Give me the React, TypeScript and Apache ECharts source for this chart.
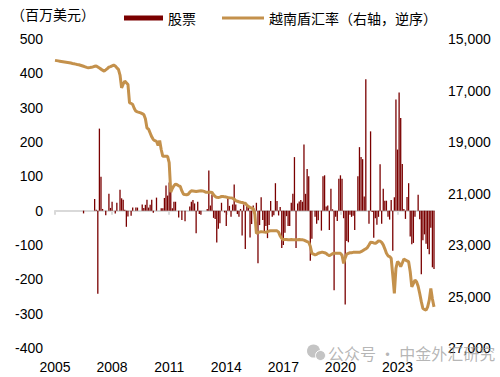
import React, { useEffect, useRef } from "react";
import * as echarts from "echarts";

// Monthly data, Jan 2005 .. Dec 2024
const START_YEAR = 2005;

// Net equity flows (USD mn), one value per month
const equityFlows: number[] = [
  0, 0, 0, 0, 0, 0, 0, 0, 0, 0, 0, 0,
  0, 0, 0, 0, 0, 0, -8, 0, 0, 0, 0, 0,
  0, 34, 3, -242, 239, 99, 5, 0, -13, 0, 49, 8,
  26, 0, -8, 23, 0, 61, 36, 32, 3, -47, -17, 0,
  -15, 9, 0, 9, 9, 0, 0, 18, 8, 17, 32, 9,
  17, 32, -6, 0, 38, 0, 0, 7, 7, 37, 73, 44,
  82, 72, 7, 26, 26, 0, -20, 0, -27, 0, -31, 0,
  0, 12, 26, 31, 21, -66, 26, -10, -12, 0, 0, 0,
  5, 117, 15, 47, -21, -24, -93, -53, -37, 23, 0, -5,
  -45, 39, 14, -18, 18, 76, 18, -10, -18, 5, -72, 18,
  -112, 14, 14, -78, -39, 15, -27, 23, -153, -42, 39, -27,
  -63, -45, -80, -42, 28, -18, -13, 80, 28, -14, 11, -109,
  -100, -64, -16, -45, -45, 23, 49, 156, -109, 21, 27, 31,
  26, 193, 49, 121, 100, -146, -82, 0, -18, -38, -28, 0,
  -58, 100, 103, 12, 15, -56, 64, 4, -232, -18, -30, 93,
  103, 93, -22, -273, -88, -92, -12, -18, -15, -56, 0, 100,
  185, 156, 150, 41, 383, 0, -38, 231, -4, -79, -22, -41,
  -18, 135, -38, 64, 29, 29, -18, -26, 31, -117, 39, 324,
  178, 344, 270, 136, 5, -24, 40, 80, -75, -98, -94, -18,
  0, 46, -25, -185, -86, -69, -96, -112, -127, -50, -165, -170,
];

// VND per USD, one value per month
const vndRate: number[] = [
  15830, 15840, 15850, 15860, 15870, 15880, 15890, 15900, 15910, 15920, 15935, 15950,
  15962, 15975, 15990, 16000, 16020, 16040, 16060, 16080, 16100, 16117, 16110, 16100,
  16080, 16060, 16050, 16090, 16130, 16170, 16210, 16247, 16200, 16150, 16090, 16070,
  16040, 16013, 16050, 16120, 16180, 16400, 16897, 16750, 16636, 16700, 16766, 17481,
  17500, 17545, 17700, 17805, 17830, 17850, 17870, 17900, 17935, 18100, 18455, 18500,
  18650, 18800, 18907, 18950, 18973, 19130, 18946, 19300, 19558, 19558, 19558, 19558,
  19800, 20948, 20800, 20700, 20636, 20660, 20700, 20727, 20900, 21026, 21040, 21050,
  21030, 20950, 20895, 20900, 20910, 20920, 20910, 20900, 20895, 20900, 20920, 20948,
  20948, 20948, 20948, 20960, 21050, 21116, 21150, 21155, 21140, 21116, 21116, 21130,
  21140, 21155, 21165, 21170, 21180, 21220, 21283, 21300, 21320, 21338, 21350, 21370,
  21376, 21450, 21505, 21540, 21570, 21580, 21800, 22545, 22520, 22500, 22480, 22490,
  22500, 22507, 22480, 22460, 22450, 22450, 22450, 22450, 22450, 22500, 22650, 22740,
  22800, 22790, 22790, 22800, 22800, 22790, 22800, 22800, 22800, 22800, 22790, 22800,
  22800, 22810, 22840, 22870, 22895, 23050, 23323, 23350, 23387, 23360, 23320, 23300,
  23285, 23285, 23300, 23323, 23380, 23413, 23380, 23340, 23323, 23320, 23320, 23323,
  23323, 23400, 23713, 23500, 23350, 23323, 23300, 23300, 23285, 23285, 23285, 23285,
  23285, 23260, 23220, 23180, 23154, 23100, 23000, 22895, 22900, 22920, 22935, 22900,
  22840, 22850, 22900, 22997, 23150, 23323, 23420, 23450, 23518, 24166, 24883, 23909,
  23648, 23700, 23843, 23700, 23543, 23580, 23620, 23648, 24038, 24622, 24500, 24362,
  24427, 24600, 24883, 25200, 25467, 25500, 25532, 25400, 25142, 24688, 25100, 25402,
];

const xTickYears = [2005, 2008, 2011, 2014, 2017, 2020, 2023];
const leftAxis = { min: -400, max: 500, step: 100 };
const rightAxis = { min: 15000, max: 27000, step: 2000 };

const BAR_NAME = "股票";
const LINE_NAME = "越南盾汇率（右轴，逆序）";
const UNIT_LABEL = "（百万美元）";
const WATERMARK = "公众号 · 中金外汇研究";

const FONT = "'Liberation Sans', Arial, 'Noto Sans CJK SC', sans-serif";
const CJK_FONT = "'Noto Sans CJK SC', 'Liberation Sans', sans-serif";

export default function App() {
  const ref = useRef<HTMLDivElement>(null);

  useEffect(() => {
    document.body.style.margin = "0";
    if (!ref.current) return;
    const chart = echarts.init(ref.current, undefined, { renderer: "svg" });

    const t = (i: number) => START_YEAR + i / 12;
    const xMax = t(equityFlows.length - 1);

    const option: any = {
      animation: false,
      backgroundColor: "#ffffff",
      textStyle: { fontFamily: FONT },
      grid: { left: 55, right: 66, top: 39, bottom: 29, containLabel: false },
      legend: [
        {
          left: 119,
          top: 6,
          data: [{ name: BAR_NAME, icon: "rect" }],
          itemWidth: 39,
          itemHeight: 5,
          textStyle: { fontSize: 14, color: "#000", fontFamily: CJK_FONT },
        },
        {
          left: 217,
          top: 6,
          data: [{ name: LINE_NAME, icon: "rect" }],
          itemWidth: 42,
          itemHeight: 3,
          textStyle: { fontSize: 14, color: "#000", fontFamily: CJK_FONT },
        },
      ],
      xAxis: [
        {
          type: "value",
          position: "bottom",
          min: START_YEAR,
          max: xMax,
          interval: 3,
          axisLine: { show: false, onZero: false },
          axisTick: { show: false },
          splitLine: { show: false },
          axisLabel: {
            fontSize: 14,
            color: "#000",
            margin: 12,
            fontFamily: FONT,
            customValues: xTickYears,
            formatter: (v: number) => (Number.isInteger(v) ? String(v) : ""),
          },
        },
        {
          type: "value",
          position: "top",
          min: START_YEAR,
          max: xMax,
          interval: 3,
          axisLine: {
            show: true,
            onZero: true,
            onZeroAxisIndex: 0,
            lineStyle: { color: "#D9D9D9", width: 2 },
          },
          axisTick: {
            show: true,
            inside: true,
            length: 4,
            customValues: xTickYears,
            lineStyle: { color: "#D9D9D9", width: 2 },
          },
          axisLabel: { show: false },
          splitLine: { show: false },
        },
      ],
      yAxis: [
        {
          type: "value",
          position: "left",
          min: leftAxis.min,
          max: leftAxis.max,
          interval: leftAxis.step,
          axisLine: { show: false },
          axisTick: { show: false },
          splitLine: { show: false },
          axisLabel: { fontSize: 14, color: "#000", margin: 12, fontFamily: FONT },
        },
        {
          type: "value",
          position: "right",
          inverse: true,
          min: rightAxis.min,
          max: rightAxis.max,
          interval: rightAxis.step,
          axisLine: { show: false },
          axisTick: { show: false },
          splitLine: { show: false },
          axisLabel: {
            fontSize: 14,
            color: "#000",
            margin: 14,
            fontFamily: FONT,
            formatter: (v: number) => v.toLocaleString("en-US"),
          },
        },
      ],
      series: [
        {
          name: BAR_NAME,
          type: "bar",
          xAxisIndex: 0,
          yAxisIndex: 0,
          barWidth: 1.3,
          itemStyle: { color: "#7A0000" },
          data: equityFlows.map((v, i) => [t(i), v]),
          z: 2,
        },
        {
          name: LINE_NAME,
          type: "line",
          xAxisIndex: 0,
          yAxisIndex: 1,
          symbol: "none",
          lineStyle: { color: "#C4914C", width: 3 },
          itemStyle: { color: "#C4914C" },
          data: vndRate.map((v, i) => [t(i), v]),
          z: 3,
        },
      ],
      graphic: [
        {
          type: "text",
          x: 11,
          y: 14,
          style: {
            text: UNIT_LABEL,
            fontSize: 14,
            fontFamily: CJK_FONT,
            fill: "#000",
            verticalAlign: "middle",
          },
        },
        {
          type: "circle",
          shape: { cx: 313.5, cy: 351, r: 6.5 },
          style: { fill: "#c4c4c4" },
          z: 10,
        },
        {
          type: "circle",
          shape: { cx: 320.5, cy: 355.5, r: 5 },
          style: { fill: "#c4c4c4", stroke: "#fff", lineWidth: 1 },
          z: 10,
        },
        {
          type: "text",
          x: 328,
          y: 353,
          style: {
            text: WATERMARK,
            fontSize: 16,
            fontFamily: CJK_FONT,
            fill: "rgba(150,150,150,0.7)",
            verticalAlign: "middle",
          },
          z: 10,
        },
      ],
    };

    chart.setOption(option);
    return () => chart.dispose();
  }, []);

  return (
    <div
      ref={ref}
      style={{ width: 500, height: 377, position: "absolute", left: 0, top: 0 }}
    />
  );
}
